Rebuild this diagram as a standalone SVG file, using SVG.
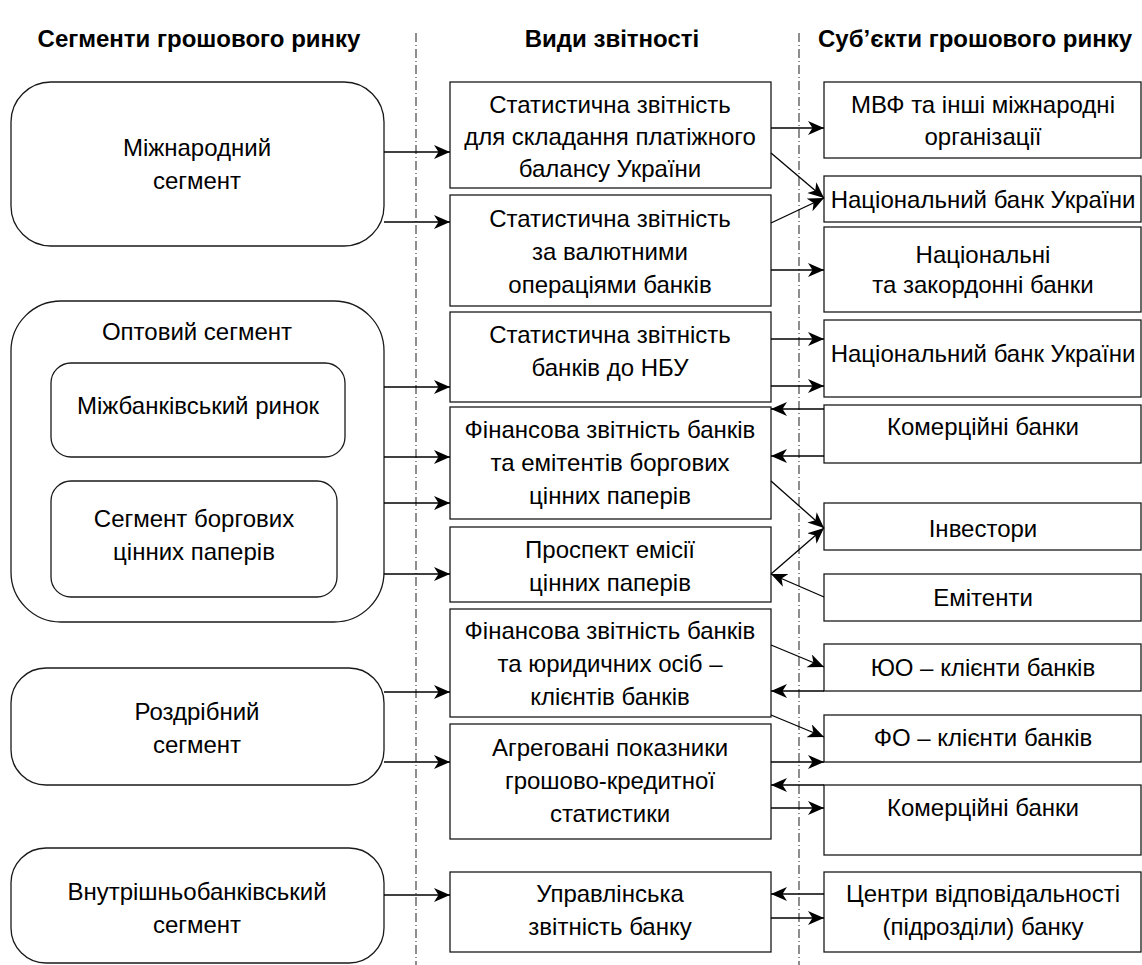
<svg xmlns="http://www.w3.org/2000/svg" width="1142" height="965" viewBox="0 0 1142 965">
  <style>
    .box { fill: #fff; stroke: #1a1a1a; stroke-width: 1.3; }
    .t { font-family: "Liberation Sans", Arial, sans-serif; font-size: 24px; fill: #000; text-anchor: middle; }
    .h { font-family: "Liberation Sans", Arial, sans-serif; font-size: 24px; font-weight: bold; fill: #000; text-anchor: middle; }
    .sep { stroke: #444; stroke-width: 1.2; stroke-dasharray: 9 3 1 3; fill: none; }
    .c { stroke: #000; stroke-width: 1.3; fill: none; marker-end: url(#arr); }
  </style>
  <defs>
    <marker id="arr" markerUnits="userSpaceOnUse" markerWidth="17" markerHeight="15" refX="16" refY="7" orient="auto">
      <path d="M0,0 L16,7 L0,14 L4.5,7 Z" fill="#000"/>
    </marker>
  </defs>
  <rect width="1142" height="965" fill="#fff"/>

  <!-- column separators -->
  <g id="separators">
    <line class="sep" x1="416" y1="33" x2="416" y2="965"/>
    <line class="sep" x1="799" y1="33" x2="799" y2="965"/>
  </g>

  <!-- column headings -->
  <g id="headings">
    <text class="h" x="199" y="47">Сегменти грошового ринку</text>
    <text class="h" x="612" y="47">Види звітності</text>
    <text class="h" x="975" y="47">Суб’єкти грошового ринку</text>
  </g>

  <!-- market segments -->
  <g id="seg-international">
    <rect class="box" x="11" y="82" width="373" height="164" rx="40"/>
    <text class="t" x="197" y="156">Міжнародний</text>
    <text class="t" x="197" y="189">сегмент</text>
  </g>
  <g id="seg-wholesale">
    <rect class="box" x="11" y="301" width="373" height="321" rx="50"/>
    <text class="t" x="197" y="340">Оптовий сегмент</text>
  </g>
  <g id="seg-interbank">
    <rect class="box" x="51" y="363" width="294" height="94" rx="20"/>
    <text class="t" x="198" y="414">Міжбанківський ринок</text>
  </g>
  <g id="seg-debt">
    <rect class="box" x="51" y="481" width="286" height="116" rx="20"/>
    <text class="t" x="194" y="527">Сегмент боргових</text>
    <text class="t" x="194" y="560">цінних паперів</text>
  </g>
  <g id="seg-retail">
    <rect class="box" x="11" y="668" width="373" height="117" rx="35"/>
    <text class="t" x="197" y="720">Роздрібний</text>
    <text class="t" x="197" y="753">сегмент</text>
  </g>
  <g id="seg-inbank">
    <rect class="box" x="11" y="848" width="373" height="115" rx="35"/>
    <text class="t" x="197" y="900">Внутрішньобанківський</text>
    <text class="t" x="197" y="933">сегмент</text>
  </g>

  <!-- report types -->
  <g id="rep-bop">
    <rect class="box" x="450" y="82" width="321" height="106"/>
    <text class="t" x="610" y="113">Статистична звітність</text>
    <text class="t" x="610" y="145">для складання платіжного</text>
    <text class="t" x="610" y="177">балансу України</text>
  </g>
  <g id="rep-fx">
    <rect class="box" x="450" y="195" width="321" height="111"/>
    <text class="t" x="610" y="227">Статистична звітність</text>
    <text class="t" x="610" y="260">за валютними</text>
    <text class="t" x="610" y="293">операціями банків</text>
  </g>
  <g id="rep-nbu">
    <rect class="box" x="450" y="312" width="321" height="90"/>
    <text class="t" x="610" y="343">Статистична звітність</text>
    <text class="t" x="610" y="376">банків до НБУ</text>
  </g>
  <g id="rep-fin-issuers">
    <rect class="box" x="450" y="407" width="321" height="112"/>
    <text class="t" x="610" y="438">Фінансова звітність банків</text>
    <text class="t" x="610" y="471">та емітентів боргових</text>
    <text class="t" x="610" y="504">цінних паперів</text>
  </g>
  <g id="rep-prospectus">
    <rect class="box" x="450" y="527" width="321" height="75"/>
    <text class="t" x="610" y="558">Проспект емісії</text>
    <text class="t" x="610" y="591">цінних паперів</text>
  </g>
  <g id="rep-fin-clients">
    <rect class="box" x="450" y="609" width="321" height="108"/>
    <text class="t" x="610" y="639">Фінансова звітність банків</text>
    <text class="t" x="610" y="672">та юридичних осіб –</text>
    <text class="t" x="610" y="705">клієнтів банків</text>
  </g>
  <g id="rep-monetary">
    <rect class="box" x="450" y="724" width="321" height="115"/>
    <text class="t" x="610" y="756">Агреговані показники</text>
    <text class="t" x="610" y="789">грошово-кредитної</text>
    <text class="t" x="610" y="822">статистики</text>
  </g>
  <g id="rep-management">
    <rect class="box" x="450" y="872" width="321" height="80"/>
    <text class="t" x="610" y="902">Управлінська</text>
    <text class="t" x="610" y="935">звітність банку</text>
  </g>

  <!-- market participants -->
  <g id="sub-imf">
    <rect class="box" x="824" y="82" width="317" height="76"/>
    <text class="t" x="983" y="113">МВФ та інші міжнародні</text>
    <text class="t" x="983" y="145">організації</text>
  </g>
  <g id="sub-nbu-1">
    <rect class="box" x="824" y="176" width="317" height="46"/>
    <text class="t" x="983" y="208">Національний банк України</text>
  </g>
  <g id="sub-banks-intl">
    <rect class="box" x="824" y="227" width="317" height="85"/>
    <text class="t" x="983" y="263">Національні</text>
    <text class="t" x="983" y="293">та закордонні банки</text>
  </g>
  <g id="sub-nbu-2">
    <rect class="box" x="824" y="320" width="317" height="77"/>
    <text class="t" x="983" y="362">Національний банк України</text>
  </g>
  <g id="sub-commercial-1">
    <rect class="box" x="824" y="405" width="317" height="58"/>
    <text class="t" x="983" y="435">Комерційні банки</text>
  </g>
  <g id="sub-investors">
    <rect class="box" x="824" y="503" width="317" height="47"/>
    <text class="t" x="983" y="537">Інвестори</text>
  </g>
  <g id="sub-issuers">
    <rect class="box" x="824" y="574" width="317" height="47"/>
    <text class="t" x="983" y="606">Емітенти</text>
  </g>
  <g id="sub-legal">
    <rect class="box" x="824" y="644" width="317" height="47"/>
    <text class="t" x="983" y="676">ЮО – клієнти банків</text>
  </g>
  <g id="sub-private">
    <rect class="box" x="824" y="715" width="317" height="47"/>
    <text class="t" x="983" y="746">ФО – клієнти банків</text>
  </g>
  <g id="sub-commercial-2">
    <rect class="box" x="824" y="785" width="317" height="70"/>
    <text class="t" x="983" y="816">Комерційні банки</text>
  </g>
  <g id="sub-centres">
    <rect class="box" x="824" y="872" width="317" height="80"/>
    <text class="t" x="983" y="902">Центри відповідальності</text>
    <text class="t" x="983" y="935">(підрозділи) банку</text>
  </g>

  <!-- connectors -->
  <g id="connectors">
    <!-- segments to report types -->
    <line class="c" x1="384" y1="152" x2="450" y2="152"/>
    <line class="c" x1="384" y1="222" x2="450" y2="222"/>
    <line class="c" x1="384" y1="387" x2="450" y2="387"/>
    <line class="c" x1="384" y1="457" x2="450" y2="457"/>
    <line class="c" x1="384" y1="503" x2="450" y2="503"/>
    <line class="c" x1="384" y1="574" x2="450" y2="574"/>
    <line class="c" x1="384" y1="692" x2="450" y2="692"/>
    <line class="c" x1="384" y1="762" x2="450" y2="762"/>
    <line class="c" x1="384" y1="895" x2="450" y2="895"/>
    <!-- report types and participants -->
    <line class="c" x1="771" y1="128" x2="824" y2="128"/>
    <line class="c" x1="771" y1="153" x2="824" y2="198"/>
    <line class="c" x1="771" y1="223" x2="824" y2="198"/>
    <line class="c" x1="771" y1="270" x2="824" y2="270"/>
    <line class="c" x1="771" y1="339" x2="824" y2="339"/>
    <line class="c" x1="771" y1="386" x2="824" y2="386"/>
    <line class="c" x1="824" y1="409" x2="771" y2="409"/>
    <line class="c" x1="824" y1="456" x2="771" y2="456"/>
    <line class="c" x1="771" y1="481" x2="824" y2="528"/>
    <line class="c" x1="771" y1="574" x2="824" y2="528"/>
    <line class="c" x1="824" y1="597" x2="771" y2="574"/>
    <line class="c" x1="771" y1="645" x2="824" y2="667"/>
    <line class="c" x1="824" y1="691" x2="771" y2="691"/>
    <line class="c" x1="771" y1="715" x2="824" y2="737"/>
    <line class="c" x1="771" y1="762" x2="824" y2="762"/>
    <line class="c" x1="824" y1="785" x2="771" y2="785"/>
    <line class="c" x1="771" y1="808" x2="824" y2="808"/>
    <line class="c" x1="824" y1="894" x2="771" y2="894"/>
    <line class="c" x1="771" y1="918" x2="824" y2="918"/>
  </g>
</svg>
